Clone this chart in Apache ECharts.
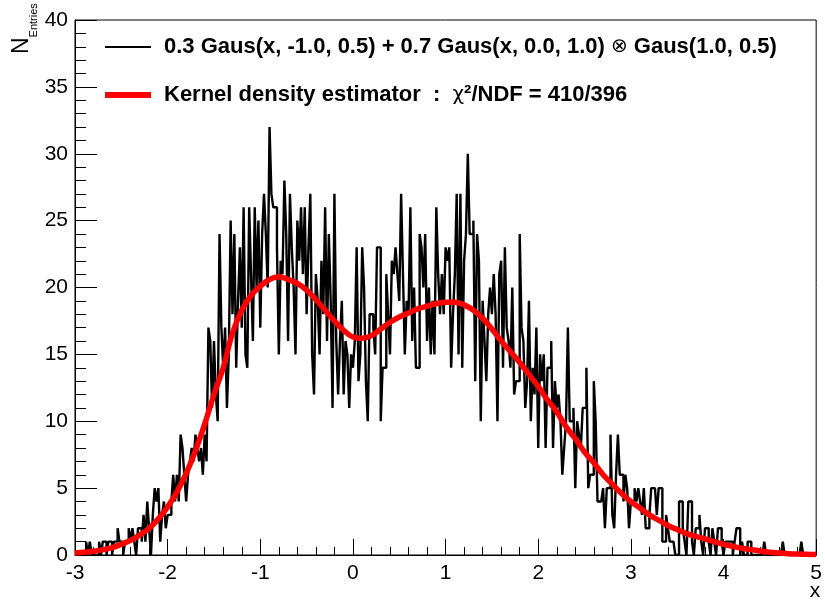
<!DOCTYPE html>
<html>
<head>
<meta charset="utf-8">
<script src="https://cdn.jsdelivr.net/npm/echarts@6/dist/echarts.min.js"></script>
<style>
  html, body { margin: 0; padding: 0; background: #fff; }
  #chart { width: 825px; height: 600px; }
</style>
</head>
<body>
<div id="chart"></div>
<script>
// Histogram binning: 400 bins of width 0.02 between -3 and 5
const histMin = -3;
const histMax = 5;
const binWidth = 0.02;

// Bin contents (entries per bin)
const binCounts = [
  0,0,0,0,0, 0,1,0,1,0, 0,0,0,1,0, 1,1,0,1,1, 0,1,1,2,1, 1,0,1,1,2, 1,2,1,0,2, 2,1,3,1,4,
  2,0,3,5,4,5,1,3,4,2,
  3,3,4,6,4,6,4,9,8,6,
  4,6,7,8,7,9,8,7,8,6,
  9,7,17,16,11,16,12,10,24,17,
  14,17,11,15,25,18,24,14,19,23,
  17,26,15,14,26,21,16,26,20,25,
  17,24,27,24,20,32,27,26,26,23,
  15,22,21,28,24,16,27,23,20,15,
  25,22,26,21,26,18,23,27,15,12,
  21,19,15,22,18,26,16,24,19,11,
  27,16,12,16,19,12,16,15,11,15,
  14,16,23,13,15,23,20,13,10,18,
  18,17,15,23,23,10,14,14,21,18,
  15,22,21,23,21,19,27,21,15,19,
  18,26,16,20,14,14,24,23,20,24,
  16,20,15,19,15,26,21,18,21,18,
  23,22,23,14,18,21,27,15,27,14,
  22,24,30,24,24,25,13,24,22,10,
  19,16,13,18,20,18,21,18,10,21,
  22,14,23,17,16,14,20,12,13,13,
  24,17,16,11,13,19,10,14,12,17,
  8,15,13,15,8,14,14,16,8,13,
  11,12,10,6,8,10,17,10,10,11,
  5,10,9,8,11,11,14,5,6,6,
  13,10,4,4,4,5,2,5,5,9,
  3,2,6,9,6,6,4,6,5,2,
  4,4,5,4,5,4,3,5,2,2,
  3,5,5,5,3,5,5,1,1,3,
  2,1,1,1,0,0,4,4,2,1,
  0,4,4,1,0,2,2,3,1,0,
  2,2,1,0,2,1,0,2,2,1,
  0,1,1,1,1,0,1,2,2,0,
  1,0,0,1,1,0,0,0,0,0,
  0,0,1,0,0,0,0,0,0,0,
  0,0,1,0,0,0,0,0,0,0,
  0,0,1,0,0,0,0,0,0,0
];

// Kernel density estimate, sampled every 0.1 from -3 to 5
const kdeStart = -3;
const kdeStep = 0.1;
const kdeValues = [
  0.15, 0.2, 0.28, 0.4, 0.55, 0.8, 1.1, 1.5, 2.0, 2.7,
  3.6, 4.7, 6.1, 7.8, 9.8, 12.0, 14.0, 16.6, 18.3, 19.4,
  20.1, 20.6, 20.8, 20.6, 20.3, 19.8, 19.1, 18.3, 17.5, 16.8,
  16.3, 16.2, 16.4, 16.9, 17.4, 17.8, 18.1, 18.4, 18.6, 18.8,
  18.9, 18.9, 18.7, 18.3, 17.7, 16.9, 16.0, 15.2, 14.4, 13.5,
  12.6, 11.6, 10.7, 9.6, 8.7, 7.7, 6.9, 6.0, 5.3, 4.6,
  4.0, 3.5, 3.0, 2.6, 2.2, 1.9, 1.6, 1.4, 1.2, 1.0,
  0.8, 0.65, 0.5, 0.4, 0.3, 0.2, 0.15, 0.1, 0.07, 0.05,
  0.03
];

// Axis tick labels
const xTickLabels = ['-3', '-2', '-1', '0', '1', '2', '3', '4', '5'];
const yTickLabels = ['0', '5', '10', '15', '20', '25', '30', '35', '40'];

// Legend texts; the convolution and chi symbols are set in a lighter weight
const legendRich = [
  '{b|0.3 Gaus(x, -1.0, 0.5) + 0.7 Gaus(x, 0.0, 1.0) }{r|\u2297}{b| Gaus(1.0, 0.5)}',
  '{b|Kernel density estimator  :  }{r|\u03c7}{b|\u00b2/NDF = 410/396}'
];

// Step outline: one point per lower bin edge, closed at the upper edge
const histData = binCounts.map((c, i) => [+(histMin + i * binWidth).toFixed(4), c]);
histData.push([histMax, binCounts[binCounts.length - 1]]);

const kdeData = kdeValues.map((v, i) => [+(kdeStart + i * kdeStep).toFixed(4), v]);

const FONT = 'Liberation Sans, Arial, Helvetica, sans-serif';
const legendTextStyle = {
  b: { fontFamily: FONT, fontSize: 22, fontWeight: 'bold', fill: '#000' },
  r: { fontFamily: 'DejaVu Sans, ' + FONT, fontSize: 20, fontWeight: 'normal', fill: '#000' }
};

const chart = echarts.init(document.getElementById('chart'), null, { renderer: 'canvas' });

chart.setOption({
  animation: false,
  backgroundColor: '#ffffff',
  grid: {
    left: 75, right: 8, top: 20, bottom: 45,
    show: true, borderColor: '#000', borderWidth: 1, backgroundColor: 'transparent'
  },
  xAxis: {
    type: 'value',
    min: histMin, max: histMax, interval: 1,
    axisLine: { show: true, onZero: false, lineStyle: { color: '#000', width: 1 } },
    axisTick: { show: true, inside: true, length: 16, lineStyle: { color: '#000' } },
    minorTick: { show: true, splitNumber: 5, length: 8, lineStyle: { color: '#000' } },
    splitLine: { show: false },
    axisLabel: {
      color: '#000', fontFamily: FONT, fontSize: 21, margin: 8,
      formatter: (v) => xTickLabels[Math.round(v - histMin)]
    }
  },
  yAxis: {
    type: 'value',
    min: 0, max: 40, interval: 5,
    axisLine: { show: true, onZero: false, lineStyle: { color: '#000', width: 1 } },
    axisTick: { show: true, inside: true, length: 22, lineStyle: { color: '#000' } },
    minorTick: { show: true, splitNumber: 5, length: 11, lineStyle: { color: '#000' } },
    splitLine: { show: false },
    axisLabel: {
      color: '#000', fontFamily: FONT, fontSize: 21, margin: 7,
      formatter: (v) => yTickLabels[Math.round(v / 5)]
    }
  },
  series: [
    {
      name: 'histogram',
      type: 'line',
      step: 'end',
      data: histData,
      showSymbol: false,
      lineStyle: { color: '#000', width: 2.4 },
      z: 2
    },
    {
      name: 'kde',
      type: 'line',
      smooth: 0.4,
      data: kdeData,
      showSymbol: false,
      lineStyle: { color: '#ff0000', width: 5.5 },
      z: 3
    }
  ],
  graphic: [
    // legend entries
    { type: 'line', shape: { x1: 105, y1: 47, x2: 151, y2: 47 }, style: { stroke: '#000', lineWidth: 2 } },
    { type: 'text', x: 164, y: 47, style: { text: legendRich[0], rich: legendTextStyle, textAlign: 'left', textVerticalAlign: 'middle' } },
    { type: 'line', shape: { x1: 105, y1: 95, x2: 151, y2: 95 }, style: { stroke: '#ff0000', lineWidth: 6 } },
    { type: 'text', x: 164, y: 95, style: { text: legendRich[1], rich: legendTextStyle, textAlign: 'left', textVerticalAlign: 'middle' } },
    // y axis title
    {
      type: 'text', x: 22, y: 54, rotation: Math.PI / 2,
      style: {
        text: '{n|N}{s|Entries}',
        textAlign: 'left', textVerticalAlign: 'middle',
        rich: {
          n: { fontFamily: FONT, fontSize: 23, fill: '#000', verticalAlign: 'bottom' },
          s: { fontFamily: FONT, fontSize: 11, fill: '#000', verticalAlign: 'bottom', padding: [0, 0, -6, 0] }
        }
      }
    },
    // x axis title
    { type: 'text', x: 815, y: 591, style: { text: 'x', fill: '#000', font: '21px ' + FONT, textAlign: 'center', textVerticalAlign: 'middle' } }
  ]
});
</script>
</body>
</html>
